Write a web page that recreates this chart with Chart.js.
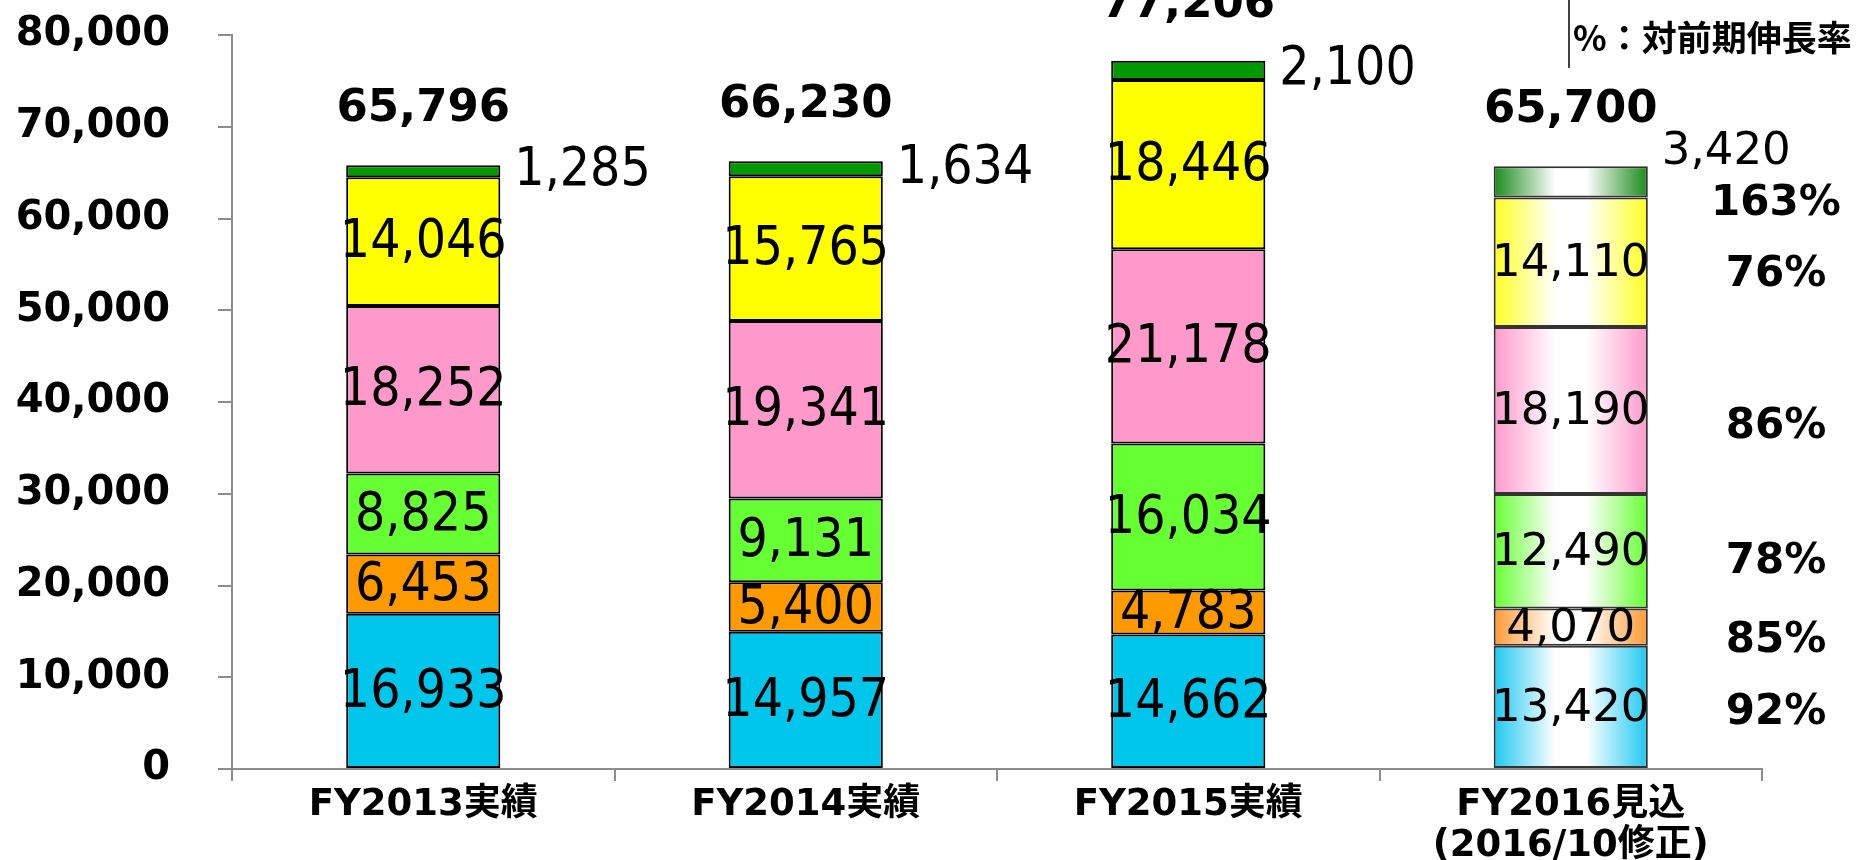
<!DOCTYPE html>
<html>
<head>
<meta charset="utf-8">
<script src="https://cdn.jsdelivr.net/npm/chart.js@4"></script>
<style>
  html, body { margin: 0; padding: 0; background: #fff; }
  #wrap { width: 1856px; height: 860px; }
</style>
</head>
<body>
<div id="wrap"><canvas id="c" width="1856" height="860"></canvas></div>
<script>
// categories (second line only on the forecast column)
const categories = [['FY2013実績'], ['FY2014実績'], ['FY2015実績'], ['FY2016見込', '(2016/10修正)']];

// stacked series, bottom to top
const blueVals = [16933, 14957, 14662, 13420];
const orangeVals = [6453, 5400, 4783, 4070];
const limeVals = [8825, 9131, 16034, 12490];
const pinkVals = [18252, 19341, 21178, 18190];
const yellowVals = [14046, 15765, 18446, 14110];
const greenVals = [1285, 1634, 2100, 3420];

// totals shown above each bar
const totals = [65796, 66230, 77206, 65700];

// growth vs previous year for the forecast column, bottom to top
const growthRates = ['92%', '85%', '78%', '86%', '76%', '163%'];
const growthNote = '%：対前期伸長率';

// y axis ticks
const yMax = 80000;
const yStep = 10000;

const colors = ['#00c6ec', '#ff9900', '#66ff33', '#ff99cc', '#ffff00', '#009900'];
const forecastEdge = ['#1ec8f0', '#ff9933', '#66ff33', '#ff99cc', '#ffff22', '#1a8a1a'];
const seriesVals = [blueVals, orangeVals, limeVals, pinkVals, yellowVals, greenVals];

// where the growth labels sit (pixel y), bottom to top
const growthY = [713, 641, 562, 427, 275, 204];

const fmt = n => n.toLocaleString('en-US');

function barFill(si) {
    return function (ctx) {
        if (ctx.dataIndex !== 3) return colors[si];
        const chart = ctx.chart;
        const xs = chart.scales.x;
        if (!xs || !chart.chartArea) return colors[si];
        const cx = xs.getPixelForValue(3);
        const w = (xs.width / categories.length) * 0.403;
        const g = chart.ctx.createLinearGradient(cx - w / 2, 0, cx + w / 2, 0);
        g.addColorStop(0, forecastEdge[si]);
        g.addColorStop(0.4, '#ffffff');
        g.addColorStop(0.6, '#ffffff');
        g.addColorStop(1, forecastEdge[si]);
        return g;
    };
}

const labelPlugin = {
    id: 'labels',
    afterDatasetsDraw(chart) {
        const ctx = chart.ctx;
        const ys = chart.scales.y;
        ctx.save();
        ctx.fillStyle = '#000';
        ctx.textBaseline = 'middle';
        seriesVals.forEach((vals, si) => {
            const meta = chart.getDatasetMeta(si);
            meta.data.forEach((el, j) => {
                const mid = (el.y + el.base) / 2;
                ctx.font = j === 3 ? '45px "DejaVu Sans"' : '53px "DejaVu Sans Condensed", "DejaVu Sans"';
                if (si === seriesVals.length - 1) {
                    ctx.textAlign = 'left';
                    const y = j === 3 ? el.y - 14 : mid;
                    ctx.fillText(fmt(vals[j]), el.x + el.width / 2 + 14, y);
                } else {
                    ctx.textAlign = 'center';
                    ctx.fillText(fmt(vals[j]), el.x, mid + 2);
                }
            });
        });
        // totals
        const top = chart.getDatasetMeta(seriesVals.length - 1);
        ctx.font = 'bold 45px "DejaVu Sans"';
        ctx.textAlign = 'center';
        ctx.textBaseline = 'alphabetic';
        top.data.forEach((el, j) => {
            ctx.fillText(fmt(totals[j]), el.x, ys.getPixelForValue(totals[j]) - 44);
        });
        // growth rates
        ctx.font = 'bold 42px "DejaVu Sans"';
        ctx.textBaseline = 'middle';
        growthRates.forEach((t, k) => {
            ctx.fillText(t, 1776, growthY[k]);
        });
        // note at top right
        ctx.strokeStyle = '#000';
        ctx.lineWidth = 1.5;
        ctx.beginPath();
        ctx.moveTo(1569, 0);
        ctx.lineTo(1569, 68);
        ctx.stroke();
        ctx.textAlign = 'left';
        ctx.font = 'bold 35px "Noto Sans CJK JP"';
        ctx.fillText(growthNote, 1573, 38);
        ctx.restore();
    }
};

const datasets = seriesVals.map((vals, si) => ({
    data: vals,
    backgroundColor: barFill(si),
    borderColor: ctx => ctx.dataIndex === 3 ? '#333' : '#000',
    borderWidth: 2,
    borderSkipped: false,
    barPercentage: 0.403,
    categoryPercentage: 1
}));

new Chart(document.getElementById('c'), {
    type: 'bar',
    data: { labels: categories, datasets: datasets },
    options: {
        responsive: false,
        animation: false,
        devicePixelRatio: 1,
        layout: { padding: { top: 0, right: 94, left: 0, bottom: 0 } },
        plugins: { legend: { display: false }, tooltip: { enabled: false } },
        scales: {
            x: {
                stacked: true,
                afterFit: s => { s.height = 91; },
                grid: { display: true, drawOnChartArea: false, offset: true, tickLength: 12, color: '#8c8c8c', lineWidth: 2 },
                border: { color: '#8c8c8c', width: 2 },
                ticks: {
                    color: '#000',
                    padding: 4,
                    font: { family: '"DejaVu Sans", "Noto Sans CJK JP"', weight: 'bold', size: 37, lineHeight: 1.1 },
                    maxRotation: 0
                }
            },
            y: {
                stacked: true,
                min: 0,
                max: yMax,
                afterFit: s => { s.width = 232; s.paddingTop = 35; s.paddingBottom = 0; },
                grid: { display: true, drawOnChartArea: false, tickLength: 14, color: '#8c8c8c', lineWidth: 2 },
                border: { color: '#8c8c8c', width: 2 },
                ticks: {
                    stepSize: yStep,
                    color: '#000',
                    padding: 48,
                    font: { family: '"DejaVu Sans"', weight: 'bold', size: 40 },
                    callback: v => fmt(v)
                }
            }
        }
    },
    plugins: [labelPlugin]
});
</script>
</body>
</html>
